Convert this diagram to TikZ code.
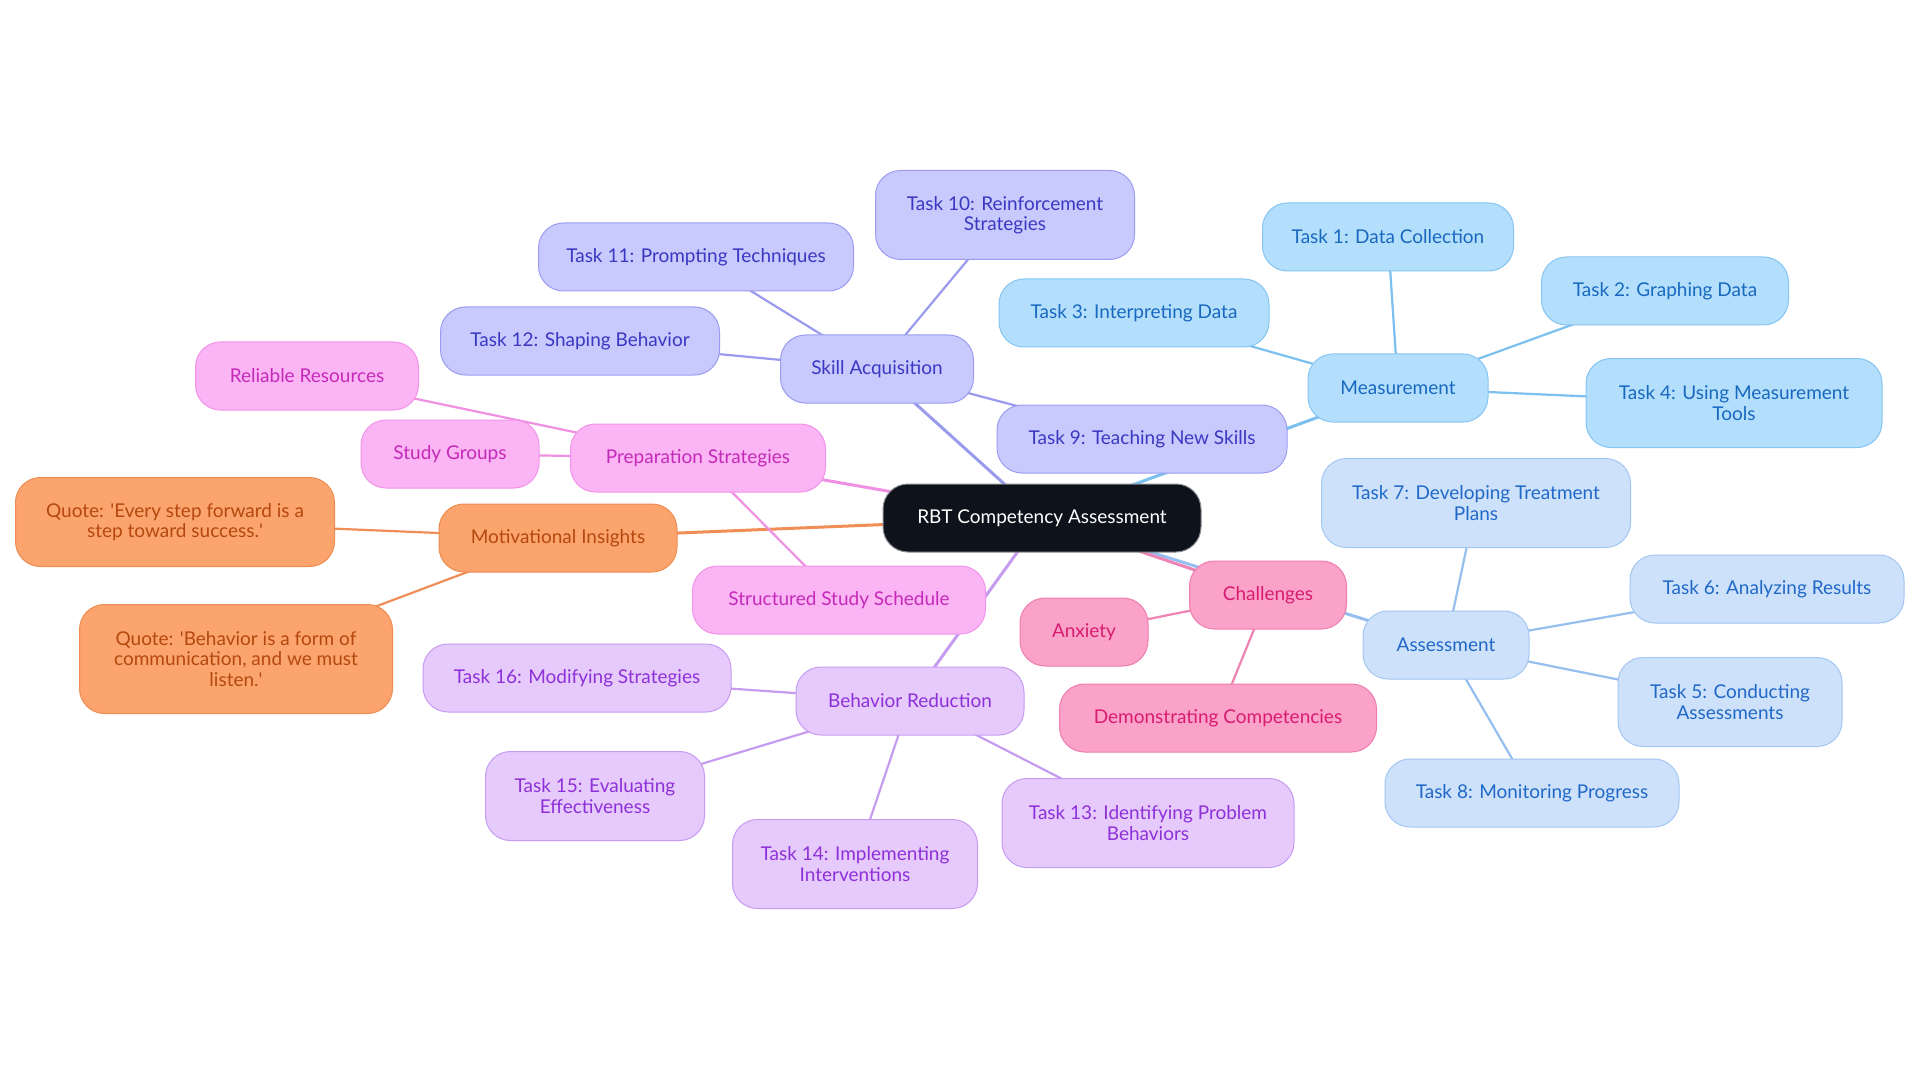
\documentclass[tikz,border=0pt]{standalone}
\usepackage{fontspec}
\setmainfont{Lato}
\usetikzlibrary{backgrounds}
\definecolor{rootfill}{HTML}{0E131B}
\definecolor{rootdraw}{HTML}{8A8D92}
\definecolor{Mfill}{HTML}{B3DFFC}\definecolor{Mdraw}{HTML}{84C5F2}\definecolor{Mtext}{HTML}{1868C0}\definecolor{Medge}{HTML}{7CC0F0}
\definecolor{Afill}{HTML}{CDE2FA}\definecolor{Adraw}{HTML}{A2C6F2}\definecolor{Atext}{HTML}{2068C8}\definecolor{Aedge}{HTML}{95BFEF}
\definecolor{Sfill}{HTML}{C8C9FC}\definecolor{Sdraw}{HTML}{9C9DF2}\definecolor{Stext}{HTML}{3A38C2}\definecolor{Sedge}{HTML}{9A9AEE}
\definecolor{Bfill}{HTML}{E6CAFC}\definecolor{Bdraw}{HTML}{C79BF2}\definecolor{Btext}{HTML}{8E30D8}\definecolor{Bedge}{HTML}{C69CF0}
\definecolor{Pfill}{HTML}{FBB4F4}\definecolor{Pdraw}{HTML}{F294EA}\definecolor{Ptext}{HTML}{C42AB9}\definecolor{Pedge}{HTML}{F090E2}
\definecolor{Ofill}{HTML}{FBA46E}\definecolor{Odraw}{HTML}{EE8C50}\definecolor{Otext}{HTML}{B5480E}\definecolor{Oedge}{HTML}{EF8E56}
\definecolor{Cfill}{HTML}{FBA2C9}\definecolor{Cdraw}{HTML}{EE7EB0}\definecolor{Ctext}{HTML}{D81C72}\definecolor{Cedge}{HTML}{EE84B4}
\begin{document}
\begin{tikzpicture}[x=1pt,y=-1pt,
  base/.style={rounded corners=25pt, line width=1pt, align=center,
    font=\fontsize{19}{20.5}\selectfont, inner xsep=14pt, inner ysep=0pt},
  one/.style={minimum height=68pt},
  two/.style={minimum height=89pt},
  three/.style={minimum height=109pt},
  rootbox/.style={base, fill=rootfill, draw=rootdraw, text=white},
  grpM/.style={base, fill=Mfill, draw=Mdraw, text=Mtext},
  grpA/.style={base, fill=Afill, draw=Adraw, text=Atext},
  grpS/.style={base, fill=Sfill, draw=Sdraw, text=Stext},
  grpB/.style={base, fill=Bfill, draw=Bdraw, text=Btext},
  grpP/.style={base, fill=Pfill, draw=Pdraw, text=Ptext},
  grpO/.style={base, fill=Ofill, draw=Odraw, text=Otext},
  grpC/.style={base, fill=Cfill, draw=Cdraw, text=Ctext},
  lvA/.style={line width=3pt},
  lvB/.style={line width=2.2pt}
]
\useasboundingbox (0,0) rectangle (1920,1083);
% root
\node[rootbox,one,minimum width=318pt] (root) at (1042,518) {RBT Competency Assessment};
% Measurement
\node[grpM,one,minimum width=180pt] (meas) at (1398,388) {Measurement};
\node[grpM,one,minimum width=251pt] (t1) at (1388,237) {Task 1: Data Collection};
\node[grpM,one,minimum width=247pt] (t2) at (1665,291) {Task 2: Graphing Data};
\node[grpM,one,minimum width=270pt] (t3) at (1134,313) {Task 3: Interpreting Data};
\node[grpM,two,minimum width=296pt] (t4) at (1734,403) {Task 4: Using Measurement\\Tools};
% Assessment
\node[grpA,one,minimum width=166pt] (assess) at (1446,645) {Assessment};
\node[grpA,two,minimum width=309pt] (t7) at (1476,503) {Task 7: Developing Treatment\\Plans};
\node[grpA,one,minimum width=274pt] (t6) at (1767,589) {Task 6: Analyzing Results};
\node[grpA,two,minimum width=224pt] (t5) at (1730,702) {Task 5: Conducting\\Assessments};
\node[grpA,one,minimum width=294pt] (t8) at (1532,793) {Task 8: Monitoring Progress};
% Skill Acquisition
\node[grpS,one,minimum width=193pt] (skill) at (877,369) {Skill Acquisition};
\node[grpS,one,minimum width=290pt] (t9) at (1142,439) {Task 9: Teaching New Skills};
\node[grpS,two,minimum width=259pt] (t10) at (1005,215) {Task 10: Reinforcement\\Strategies};
\node[grpS,one,minimum width=315pt] (t11) at (696,257) {Task 11: Prompting Techniques};
\node[grpS,one,minimum width=279pt] (t12) at (580,341) {Task 12: Shaping Behavior};
% Preparation
\node[grpP,one,minimum width=255pt] (prep) at (698,458) {Preparation Strategies};
\node[grpP,one,minimum width=223pt] (rr) at (307,376) {Reliable Resources};
\node[grpP,one,minimum width=178pt] (sg) at (450,454) {Study Groups};
\node[grpP,one,minimum width=293pt] (sss) at (839,600) {Structured Study Schedule};
% Motivational
\node[grpO,one,minimum width=238pt] (motiv) at (558,538) {Motivational Insights};
\node[grpO,two,minimum width=319pt] (q1) at (175,522) {Quote: \textquotesingle Every step forward is a\\step toward success.\textquotesingle};
\node[grpO,three,minimum width=313pt] (q2) at (236,659) {Quote: \textquotesingle Behavior is a form of\\communication, and we must\\listen.\textquotesingle};
% Behavior Reduction
\node[grpB,one,minimum width=228pt] (beh) at (910,701) {Behavior Reduction};
\node[grpB,one,minimum width=308pt] (t16) at (577,678) {Task 16: Modifying Strategies};
\node[grpB,two,minimum width=219pt] (t15) at (595,796) {Task 15: Evaluating\\Effectiveness};
\node[grpB,two,minimum width=245pt] (t14) at (855,864) {Task 14: Implementing\\Interventions};
\node[grpB,two,minimum width=292pt] (t13) at (1148,823) {Task 13: Identifying Problem\\Behaviors};
% Challenges
\node[grpC,one,minimum width=157pt] (chal) at (1268,595) {Challenges};
\node[grpC,one,minimum width=128pt] (anx) at (1084,632) {Anxiety};
\node[grpC,one,minimum width=317pt] (dc) at (1218,718) {Demonstrating Competencies};
\begin{scope}[on background layer]
\fill[white] (0,0) rectangle (1920,1083);
\draw[lvA,Medge] (root.center) -- (meas.center);
\draw[lvA,Aedge] (root.center) -- (assess.center);
\draw[lvA,Sedge] (root.center) -- (skill.center);
\draw[lvA,Bedge] (root.center) -- (beh.center);
\draw[lvA,Pedge] (root.center) -- (prep.center);
\draw[lvA,Oedge] (root.center) -- (motiv.center);
\draw[lvA,Cedge] (root.center) -- (chal.center);
\foreach \c in {t1,t2,t3,t4} \draw[lvB,Medge] (meas.center) -- (\c.center);
\foreach \c in {t5,t6,t7,t8} \draw[lvB,Aedge] (assess.center) -- (\c.center);
\foreach \c in {t9,t10,t11,t12} \draw[lvB,Sedge] (skill.center) -- (\c.center);
\foreach \c in {rr,sg,sss} \draw[lvB,Pedge] (prep.center) -- (\c.center);
\foreach \c in {q1,q2} \draw[lvB,Oedge] (motiv.center) -- (\c.center);
\foreach \c in {t13,t14,t15,t16} \draw[lvB,Bedge] (beh.center) -- (\c.center);
\foreach \c in {anx,dc} \draw[lvB,Cedge] (chal.center) -- (\c.center);
\end{scope}
\end{tikzpicture}
\end{document}
